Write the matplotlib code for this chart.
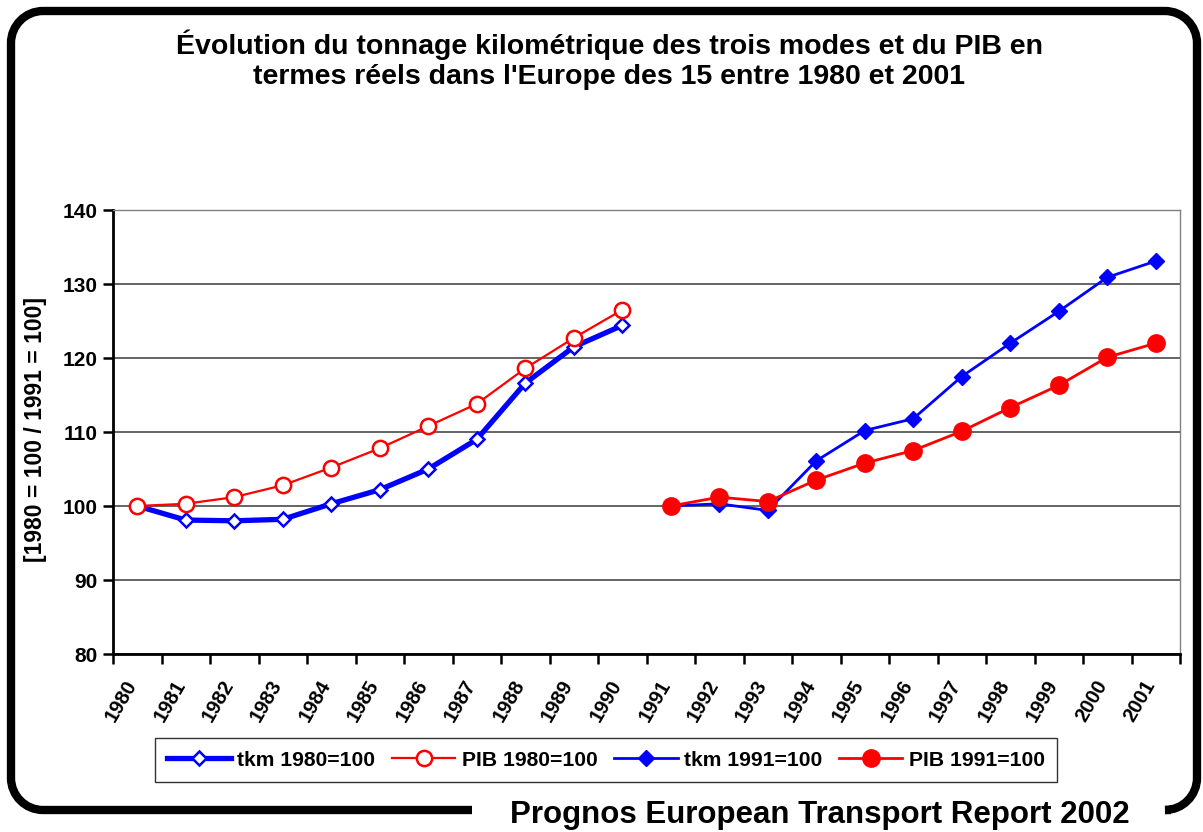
import numpy as np
import matplotlib
matplotlib.use('Agg')
from matplotlib import pyplot as plt
from matplotlib.path import Path
from matplotlib.patches import PathPatch

plt.rcParams['font.family'] = ['Liberation Sans', 'DejaVu Sans']
plt.rcParams['font.weight'] = 'bold'

years = [str(y) for y in range(1980, 2002)]
tkm_1980 = [100.0, 98.1, 98.0, 98.2, 100.3, 102.2, 105.0, 109.0, 116.6, 121.5, 124.4]
pib_1980 = [100.0, 100.3, 101.2, 102.8, 105.2, 107.8, 110.8, 113.8, 118.6, 122.7, 126.5]
tkm_1991 = [100.0, 100.3, 99.4, 106.1, 110.2, 111.8, 117.5, 122.0, 126.3, 130.9, 133.1]
pib_1991 = [100.0, 101.2, 100.6, 103.5, 105.8, 107.5, 110.1, 113.3, 116.3, 120.1, 122.0]

W, H = 1203, 832
fig = plt.figure(figsize=(W / 100, H / 100), dpi=100)

# frame around the chart, open at the bottom right for the source line
bg = fig.add_axes([0, 0, 1, 1])
bg.set_xlim(0, W)
bg.set_ylim(H, 0)
bg.axis('off')
r = 32
x0, x1, y0, y1 = 11, 1197, 11, 810
k = 0.55 * r
verts = [(472, y1), (x0 + r, y1),
         (x0 + r - k, y1), (x0, y1 - r + k), (x0, y1 - r),
         (x0, y0 + r),
         (x0, y0 + r - k), (x0 + r - k, y0), (x0 + r, y0),
         (x1 - r, y0),
         (x1 - r + k, y0), (x1, y0 + r - k), (x1, y0 + r),
         (x1, y1 - r),
         (x1, y1 - r + k), (x1 - r + k, y1), (x1 - r, y1),
         (1171, y1)]
codes = [Path.MOVETO, Path.LINETO,
         Path.CURVE4, Path.CURVE4, Path.CURVE4,
         Path.LINETO,
         Path.CURVE4, Path.CURVE4, Path.CURVE4,
         Path.LINETO,
         Path.CURVE4, Path.CURVE4, Path.CURVE4,
         Path.LINETO,
         Path.CURVE4, Path.CURVE4, Path.CURVE4,
         Path.LINETO]
bg.add_patch(PathPatch(Path(verts, codes), fill=False, lw=6, ec='black', capstyle='butt'))

left, right, top, bottom = 113, 1180, 210, 654
ax = fig.add_axes([left / W, 1 - bottom / H, (right - left) / W, (bottom - top) / H])

x = np.arange(len(years))
ax.plot(x[:11], tkm_1980, color='#0000ff', lw=3.8, marker='D', ms=7, mfc='white',
        mec='#0000ff', mew=1.8, label='tkm 1980=100', zorder=3)
ax.plot(x[:11], pib_1980, color='#ff0000', lw=1.6, marker='o', ms=11, mfc='white',
        mec='#ff0000', mew=1.8, label='PIB 1980=100', zorder=4)
ax.plot(x[11:], tkm_1991, color='#0000ff', lw=2, marker='D', ms=8.5,
        mfc='#0000ff', mec='#0000ff', label='tkm 1991=100', zorder=3)
ax.plot(x[11:], pib_1991, color='#ff0000', lw=2, marker='o', ms=12.5,
        mfc='#ff0000', mec='#ff0000', label='PIB 1991=100', zorder=4)

ax.set_xlim(-0.5, len(years) - 0.5)
ax.set_ylim(80, 140)
ax.set_yticks(np.arange(80, 141, 10))
ax.set_xticks(np.arange(-0.5, len(years), 1))
ax.set_xticklabels([])
# year labels sit a little left of the category centre, like the original
ax.set_xticks(x - 0.1, minor=True)
ax.set_xticklabels(years, minor=True, rotation=60, ha='right', va='center',
                   rotation_mode='anchor', fontsize=14.5, fontweight='bold')
ax.tick_params(axis='x', which='minor', length=0, pad=20)
ax.tick_params(axis='x', which='major', length=7, width=1.8, direction='out')
ax.tick_params(axis='y', length=7, width=1.8, direction='out', labelsize=15, pad=4)
for lab in ax.get_yticklabels():
    lab.set_fontweight('bold')

ax.grid(axis='y', color='#4a4a4a', lw=1.2)
ax.set_axisbelow(True)
ax.spines['left'].set_linewidth(2)
ax.spines['bottom'].set_linewidth(2)
ax.spines['top'].set_color('#808080')
ax.spines['right'].set_color('#808080')
ax.spines['top'].set_linewidth(1)
ax.spines['right'].set_linewidth(1)

fig.text(36 / W, 1 - 430 / H, '[1980 = 100 / 1991 = 100]', rotation=90,
         ha='center', va='center', fontsize=16.5, fontweight='bold')

fig.text(609 / W, 1 - 45 / H, "Évolution du tonnage kilométrique des trois modes et du PIB en",
         ha='center', va='center', fontsize=20.5, fontweight='bold')
fig.text(609 / W, 1 - 77 / H, "termes réels dans l'Europe des 15 entre 1980 et 2001",
         ha='center', va='center', fontsize=20.5, fontweight='bold')

leg = fig.legend(loc='center', bbox_to_anchor=(606 / W, 1 - 760 / H), ncol=4,
                 frameon=True, fancybox=False, edgecolor='black',
                 handlelength=3, columnspacing=0.8, handletextpad=0.3,
                 borderpad=0.6, prop={'weight': 'bold', 'size': 15.2})
leg.get_frame().set_linewidth(1)

fig.text(820 / W, 1 - 815 / H, 'Prognos European Transport Report 2002',
         ha='center', va='center', fontsize=22.5, fontweight='bold')

fig.savefig('out.png', dpi=100)
